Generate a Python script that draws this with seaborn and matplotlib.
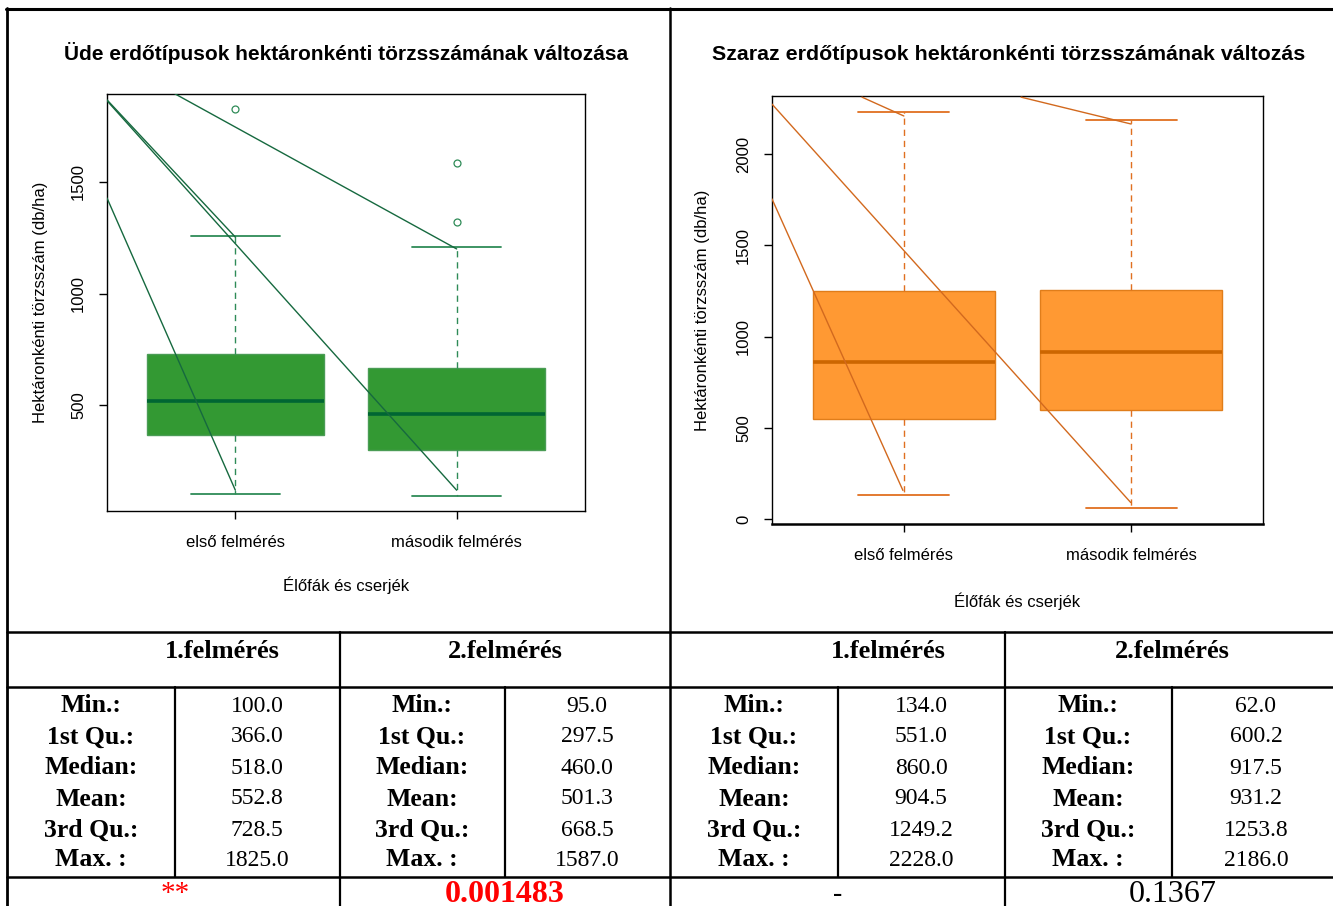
import numpy as np
import pandas as pd
import matplotlib
matplotlib.use("Agg")
import matplotlib.pyplot as plt
import seaborn as sns
from matplotlib.lines import Line2D
from matplotlib.transforms import Bbox, TransformedBbox

# ---------------- data ----------------
categories = ["első felmérés", "második felmérés"]

# Üde (left)
ude_min = [100.0, 95.0]
ude_q1 = [366.0, 297.5]
ude_median = [518.0, 460.0]
ude_mean = [552.8, 501.3]
ude_q3 = [728.5, 668.5]
ude_max = [1825.0, 1587.0]
ude_whisker_hi = [1258.0, 1209.0]
ude_outliers = [[1825.0], [1321.0, 1587.0]]
ude_test = ["**", "0.001483"]

# Száraz (right)
szaraz_min = [134.0, 62.0]
szaraz_q1 = [551.0, 600.2]
szaraz_median = [860.0, 917.5]
szaraz_mean = [904.5, 931.2]
szaraz_q3 = [1249.2, 1253.8]
szaraz_max = [2228.0, 2186.0]
szaraz_whisker_hi = [2228.0, 2186.0]
szaraz_outliers = [[], []]
szaraz_test = ["-", "0.1367"]

# sloping lines drawn over the plots (x = category position, y = db/ha)
ude_lines_x = [(-0.58, 0.0), (-0.58, 0.0), (-0.58, 1.0), (-0.273, 1.0)]
ude_lines_y = [(1428, 119), (1868, 1253), (1864, 119), (1895, 1200)]
szaraz_lines_x = [(-0.58, -0.004), (-0.58, 0.998), (-0.184, 0.0), (0.516, 1.0)]
szaraz_lines_y = [(1754, 159), (2273, 93), (2311, 2208), (2311, 2164)]

row_labels = ["Min.:", "1st Qu.:", "Median:", "Mean:", "3rd Qu.:", "Max. :"]
header_labels = ["1.felmérés", "2.felmérés", "1.felmérés", "2.felmérés"]

ude_yticks = [500, 1000, 1500]
szaraz_yticks = [0, 500, 1000, 1500, 2000]

# ---------------- style ----------------
sns.set_theme(style="ticks")
plt.rcParams["font.family"] = ["Liberation Sans", "DejaVu Sans"]
plt.rcParams["axes.edgecolor"] = "black"
plt.rcParams["axes.linewidth"] = 1.0
plt.rcParams["xtick.color"] = "black"
plt.rcParams["ytick.color"] = "black"
plt.rcParams["text.color"] = "black"
plt.rcParams["axes.labelcolor"] = "black"
plt.rcParams["xtick.labelcolor"] = "black"
plt.rcParams["ytick.labelcolor"] = "black"

W, H = 1333, 906
fig = plt.figure(figsize=(W / 100, H / 100), dpi=100)
fig.patch.set_facecolor("white")


def fx(x):
    return x / W


def fy(y):
    return 1 - y / H


def pseudo_sample(mn, q1, med, q3, whi, outl):
    # a sample whose quartiles / whiskers reproduce the reported summary
    return [mn] + [q1] * 3 + [med] * 3 + [q3] * 3 + [whi] + list(outl)


def make_df(mins, q1s, meds, q3s, whis, outs):
    rows = []
    for i, cat in enumerate(categories):
        for v in pseudo_sample(mins[i], q1s[i], meds[i], q3s[i], whis[i], outs[i]):
            rows.append((cat, v))
    return pd.DataFrame(rows, columns=["csoport", "érték"])


def draw_panel(ax, df, lo, hi, fill, edge, med_c, whisk_c, line_c, lines_x, lines_y, yticks,
               xlabel_off, ylabel_off):
    sns.boxplot(data=df, x="csoport", y="érték", order=categories, ax=ax,
                color=fill, saturation=1, width=0.8, linewidth=1.0, linecolor=edge,
                whis=1.5,
                medianprops=dict(color=med_c, linewidth=2.6),
                whiskerprops=dict(color=whisk_c, linewidth=1.0, linestyle=(0, (4.5, 3.5))),
                capprops=dict(color=whisk_c, linewidth=1.3),
                flierprops=dict(marker="o", markerfacecolor="none",
                                markeredgecolor=whisk_c, markersize=5, markeredgewidth=0.9))
    for xs, ys in zip(lines_x, lines_y):
        ax.plot(xs, ys, color=line_c, linewidth=1.0, zorder=5)
    rng = hi - lo
    ax.set_ylim(lo - 0.04 * rng, hi + 0.04 * rng)
    ax.set_xlim(-0.58, 1.58)
    ax.set_yticks(yticks)
    ax.set_yticklabels([str(t) for t in yticks])
    ax.tick_params(axis="y", labelrotation=90, length=6, width=1, labelsize=12, pad=9,
                   labelcolor="black")
    ax.tick_params(axis="x", length=6, width=1, labelsize=12, pad=11, labelcolor="black")
    for lab in ax.get_yticklabels():
        lab.set_va("center")
    ax.set_xlabel("Élőfák és cserjék", fontsize=12, color="black")
    ax.set_ylabel("Hektáronkénti törzsszám (db/ha)", fontsize=12, color="black")
    ax.xaxis.set_label_coords(0.5, xlabel_off)
    ax.yaxis.set_label_coords(ylabel_off, 0.5)
    ax.xaxis.label.set_va("center")
    ax.yaxis.label.set_va("center")
    for s in ax.spines.values():
        s.set_visible(True)
        s.set_color("black")
        s.set_linewidth(1.0)
    ax.grid(False)


# left panel
ax1 = fig.add_axes([fx(107), fy(511), fx(585 - 107), (511 - 94) / H])
df1 = make_df(ude_min, ude_q1, ude_median, ude_q3, ude_whisker_hi, ude_outliers)
draw_panel(ax1, df1, min(ude_min), max(ude_max), "#339933", "#4a9c55", "#006633",
           "#2e8b57", "#16693f", ude_lines_x, ude_lines_y, ude_yticks,
           -74 / 417, -66 / 478)

# right panel
ax2 = fig.add_axes([fx(772), fy(524), fx(1263 - 772), (524 - 96.5) / H])
df2 = make_df(szaraz_min, szaraz_q1, szaraz_median, szaraz_q3, szaraz_whisker_hi, szaraz_outliers)
draw_panel(ax2, df2, min(szaraz_min), max(szaraz_max), "#ff9933", "#e07d1a", "#cc6600",
           "#e07020", "#d2691e", szaraz_lines_x, szaraz_lines_y, szaraz_yticks,
           -77 / 427, -70 / 491)
ax2.spines["bottom"].set_linewidth(1.8)

# titles
fig.text(fx(346), fy(53), "Üde erdőtípusok hektáronkénti törzsszámának változása",
         ha="center", va="center", fontsize=15, fontweight="bold", color="black")
t2 = fig.text(fx(712), fy(55), "Szaraz erdőtípusok hektáronkénti törzsszámának változása",
              ha="left", va="center", fontsize=15.4, fontweight="bold", color="black")
t2.set_clip_box(TransformedBbox(Bbox([[0, 0], [1306 / W, 1]]), fig.transFigure))
t2.set_clip_on(True)

# ---------------- table / frame ----------------
def hline(y, x0=7, x1=W, lw=1.8):
    fig.add_artist(Line2D([fx(x0), fx(x1)], [fy(y), fy(y)], color="black", lw=lw,
                          transform=fig.transFigure))


def vline(x, y0, y1, lw=1.6):
    fig.add_artist(Line2D([fx(x), fx(x)], [fy(y0), fy(y1)], color="black", lw=lw,
                          transform=fig.transFigure))


hline(9, 6, W, lw=2.2)
hline(632)
hline(687)
hline(877)
vline(7, 8, H, lw=2.0)
vline(670, 8, H, lw=1.8)
for x in (340, 1005):
    vline(x, 632, H)
for x in (175, 505, 838, 1172):
    vline(x, 687, 877)

serif = ["Liberation Serif", "DejaVu Serif"]
header_x = [222, 505, 888, 1172]
label_x = [91, 422, 754, 1088]
value_x = [257, 587, 921, 1256]
bottom_x = [175, 505, 838, 1173]
row_y = [706, 737, 768, 799, 830, 860]

for hx, ht in zip(header_x, header_labels):
    fig.text(fx(hx), fy(651), ht, ha="center", va="center", fontsize=19,
             fontweight="bold", family=serif, color="black")

columns = [
    [ude_min[0], ude_q1[0], ude_median[0], ude_mean[0], ude_q3[0], ude_max[0]],
    [ude_min[1], ude_q1[1], ude_median[1], ude_mean[1], ude_q3[1], ude_max[1]],
    [szaraz_min[0], szaraz_q1[0], szaraz_median[0], szaraz_mean[0], szaraz_q3[0], szaraz_max[0]],
    [szaraz_min[1], szaraz_q1[1], szaraz_median[1], szaraz_mean[1], szaraz_q3[1], szaraz_max[1]],
]
for c, vals in enumerate(columns):
    for r, (lab, v) in enumerate(zip(row_labels, vals)):
        fig.text(fx(label_x[c]), fy(row_y[r]), lab, ha="center", va="center",
                 fontsize=18.5, fontweight="bold", family=serif, color="black")
        fig.text(fx(value_x[c]), fy(row_y[r]), f"{v:.1f}", ha="center", va="center",
                 fontsize=17, family=serif, color="black")

bottom_texts = [ude_test[0], ude_test[1], szaraz_test[0], szaraz_test[1]]
bottom_style = [dict(color="red", fontsize=21),
                dict(color="red", fontsize=23, fontweight="bold"),
                dict(color="black", fontsize=20),
                dict(color="black", fontsize=23)]
for bx, bt, st in zip(bottom_x, bottom_texts, bottom_style):
    fig.text(fx(bx), fy(894), bt, ha="center", va="center", family=serif, **st)

fig.savefig("out.png", dpi=100)
